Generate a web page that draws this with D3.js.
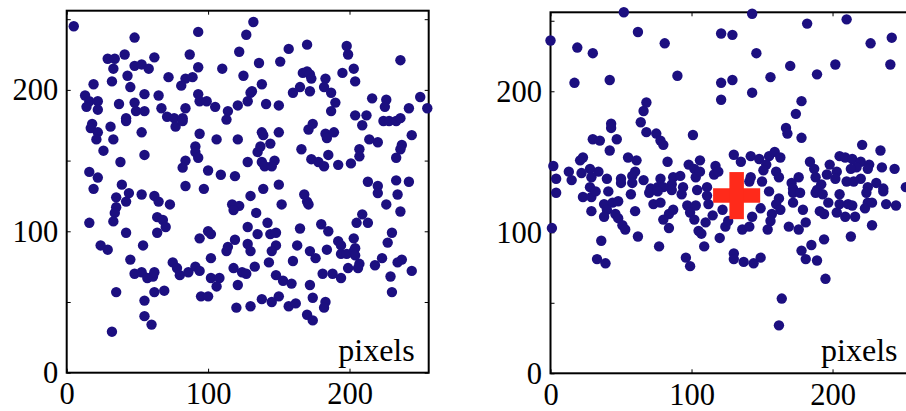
<!DOCTYPE html>
<html><head><meta charset="utf-8">
<script src="https://cdn.jsdelivr.net/npm/d3@7"></script>
<style>body{margin:0;background:#fff;overflow:hidden}</style>
</head><body><svg id="c" width="906" height="411"></svg>
<script>
const leftPoints = [
[5,245],[48,237],[93,241],[41,225],[29,222],[34,222],[62,223],[87,225],[122,227],[48,217],[53,218],[58,215],[33,215],[93,216],[110,215],[43,210],[32,206],[72,209],[84,208],[89,209],[81,203],[125,210],[19,204],[45,202],[13,196],[55,197],[65,196],[93,197],[16,192],[22,192],[14,188],[22,186],[37,190],[48,191],[49,185],[55,185],[94,192],[99,192],[105,188],[67,187],[84,187],[114,185],[113,179],[121,189],[71,181],[76,180],[82,180],[77,174],[82,178],[42,180],[42,178],[18,176],[17,173],[31,174],[22,170],[53,170],[94,169],[21,165],[33,165],[106,165],[121,165],[91,160],[91,156],[93,152],[26,157],[55,154],[38,149],[84,150],[82,145],[16,142],[22,138],[100,143],[109,140],[119,139],[39,133],[19,130],[84,132],[97,130],
[44,127],[53,126],[62,125],[65,121],[35,124],[73,119],[42,121],[35,117],[34,113],[33,107],[16,106],[64,110],[68,108],[70,103],[117,119],[122,118],[118,115],[42,99],[64,99],[100,100],[102,98],[94,95],[119,94],[24,90],[29,87],[54,90],[114,89],[113,86],[45,80],[102,81],[75,78],[48,70],[53,71],[57,67],[61,68],[62,71],[78,74],[80,69],[86,71],[91,75],[94,72],[102,67],[108,67],[106,61],[118,74],[124,71],[127,70],[121,62],[35,57],[62,57],[69,58],[55,51],[95,54],[100,54],[120,46],[55,40],[60,34],[32,29],
[132,248],[127,239],[157,229],[170,232],[198,231],[199,225],[136,219],[151,220],[236,221],[167,212],[170,213],[172,211],[173,208],[183,208],[182,202],[187,198],[195,212],[203,215],[204,206],[138,204],[165,202],[160,198],[172,199],[130,198],[131,199],[128,192],[141,190],[150,189],[190,191],[187,185],[204,182],[212,182],[209,175],[216,194],[226,193],[225,188],[250,195],[242,187],[255,187],[224,178],[228,178],[233,178],[236,180],[138,170],[139,168],[144,162],[150,170],[171,172],[174,176],[183,169],[184,166],[189,170],[214,165],[220,163],[244,168],[237,161],[236,158],[135,156],[137,160],[166,158],[207,158],[207,153],[233,152],[128,149],[138,149],[140,146],[147,150],[145,146],[173,151],[178,149],[182,146],[185,154],[192,147],[201,148],[213,135],[220,132],[233,136],[242,135],[150,133],[139,130],
[130,125],[168,126],[170,121],[171,119],[152,119],[220,127],[234,126],[226,119],[236,114],[134,113],[209,112],[205,106],[213,106],[128,103],[142,106],[165,102],[180,105],[185,100],[135,98],[144,98],[148,99],[230,99],[203,95],[128,91],[130,86],[148,90],[145,86],[163,90],[192,93],[194,90],[194,84],[172,86],[176,81],[184,87],[198,84],[203,86],[204,88],[204,83],[207,77],[206,74],[199,74],[227,92],[223,81],[218,76],[237,80],[234,78],[160,79],[143,78],[133,75],[148,69],[153,65],[159,63],[181,70],[188,70],[194,67],[244,72],[229,68],[172,62],[230,57],[150,54],[138,52],[145,50],[157,47],[162,49],[174,53],[183,50],[182,46],[130,47],[170,41],[174,37]
];
const rightPoints = [
[52,256],[62,242],[81,234],[0,236],[19,231],[30,227],[121,241],[90,211],[17,206],[42,208],[121,206],[121,194],[68,192],[66,186],[64,178],[43,177],[43,174],[68,171],[75,170],[78,165],[80,162],[101,169],[30,166],[35,165],[47,166],[42,158],[55,153],[61,151],[60,143],[58,140],[83,150],[106,151],[21,151],[23,153],[2,147],[13,143],[98,148],[102,145],[103,139],[106,143],[117,147],[116,141],[119,143],[28,145],[34,143],[29,139],[22,142],[4,138],[15,137],[40,138],[50,138],[50,135],[66,137],[58,135],[78,138],[87,139],[92,140],[86,134],[94,132],[28,132],[71,131],[76,132],[80,132],[111,132],
[4,128],[23,125],[29,125],[32,129],[41,129],[57,127],[70,128],[76,129],[86,130],[93,127],[104,130],[111,126],[112,120],[38,120],[44,121],[48,122],[40,116],[29,115],[60,115],[73,120],[78,121],[84,113],[87,116],[80,109],[97,119],[103,119],[99,114],[102,109],[110,107],[115,112],[122,116],[38,111],[46,113],[48,110],[51,105],[53,102],[1,103],[84,103],[105,101],[107,99],[120,96],[124,104],[36,94],[62,97],[77,90],[109,90],[33,81],[39,78],[96,82],[99,76],
[143,255],[182,248],[210,251],[129,240],[227,234],[242,238],[146,227],[170,218],[202,219],[241,219],[189,212],[156,210],[129,208],[143,199],[178,193],[174,184],[167,174],[168,170],[178,167],[221,162],[234,158],[130,155],[142,154],[148,152],[135,150],[155,154],[159,157],[163,153],[153,148],[151,144],[184,150],[187,145],[198,148],[205,154],[209,153],[214,152],[220,150],[217,146],[213,145],[226,148],[225,145],[235,146],[244,145],[160,143],[162,139],[150,136],[142,139],[141,136],[176,139],[188,139],[196,141],[203,143],[202,138],[210,136],[220,138],[215,136],[231,135],[236,131],[171,135],[172,131],[192,134],[189,130],[225,132],[252,132],
[155,129],[162,124],[160,120],[163,116],[157,113],[156,108],[154,102],[172,128],[177,128],[172,121],[188,128],[193,127],[197,121],[194,113],[191,115],[205,127],[205,120],[211,120],[214,119],[203,114],[209,111],[216,111],[224,128],[225,121],[223,117],[228,121],[236,129],[238,120],[245,119],[179,116],[181,107],[169,104],[176,102],[149,117],[143,111],[126,108],[136,102],[141,104],[228,105],[213,97],[194,95],[185,91],[178,87],[181,81],[189,80],[130,85],[130,81],[137,79],[144,78],[149,82],[195,67],[164,53],[162,34]
];
const crossCenter = [132, 126];
const crossHalf = 16.7;
const xTickValues = [0, 100, 200];
const yTickValues = [0, 50, 100, 150, 200, 250];
const yLabelValues = [0, 100, 200];
const axisUnitLabel = "pixels";
const domainMax = 256;

const FONT = "'Liberation Serif','Times New Roman',serif";
const DOT = "#1c0f80";
const svg = d3.select("#c");

const panels = [
  {pts: leftPoints, x0: 66.7, x1: 428.7, y0: 372.7, y1: 10.7, cross: false},
  {pts: rightPoints, x0: 550.5, x1: 911.5, y0: 373.3, y1: 12.3, cross: true}
];

panels.forEach(p => {
  const x = d3.scaleLinear().domain([0, domainMax]).range([p.x0, p.x1]);
  const y = d3.scaleLinear().domain([0, domainMax]).range([p.y0, p.y1]);
  const g = svg.append("g");

  const fmt = d => yLabelValues.includes(d) ? String(d) : "";
  const styleAxis = sel => {
    sel.select(".domain").remove();
    sel.selectAll(".tick line").attr("stroke", "#000").attr("stroke-width", 1);
    sel.attr("font-family", FONT).attr("font-size", 30.5);
    sel.selectAll(".tick text").attr("fill", "#000");
  };

  g.append("g").attr("transform", `translate(0,${p.y0})`)
    .call(d3.axisBottom(x).tickValues(xTickValues).tickSizeInner(-4).tickSizeOuter(0).tickPadding(10))
    .call(styleAxis);
  g.append("g").attr("transform", `translate(0,${p.y1})`)
    .call(d3.axisTop(x).tickValues(xTickValues).tickSizeInner(-4).tickSizeOuter(0).tickFormat(""))
    .call(styleAxis);
  g.append("g").attr("transform", `translate(${p.x0},0)`)
    .call(d3.axisLeft(y).tickValues(yTickValues).tickSizeInner(-4).tickSizeOuter(0).tickPadding(8.5).tickFormat(fmt))
    .call(styleAxis);
  g.append("g").attr("transform", `translate(${p.x1},0)`)
    .call(d3.axisRight(y).tickValues(yTickValues).tickSizeInner(-4).tickSizeOuter(0).tickFormat(""))
    .call(styleAxis);

  g.append("rect")
    .attr("x", p.x0).attr("y", p.y1)
    .attr("width", p.x1 - p.x0).attr("height", p.y0 - p.y1)
    .attr("fill", "none").attr("stroke", "#000").attr("stroke-width", 2);

  g.append("g").selectAll("circle").data(p.pts).join("circle")
    .attr("cx", d => x(d[0])).attr("cy", d => y(d[1]))
    .attr("r", 5.2).attr("fill", DOT);

  g.append("text")
    .attr("x", p.x1 - 14).attr("y", 360.7)
    .attr("text-anchor", "end")
    .attr("font-family", FONT).attr("font-size", 32)
    .text(axisUnitLabel);

  if (p.cross) {
    const cg = g.append("g").attr("stroke", "#ff2a1a").attr("stroke-width", 14.5);
    cg.append("line")
      .attr("x1", x(crossCenter[0] - crossHalf)).attr("x2", x(crossCenter[0] + crossHalf))
      .attr("y1", y(crossCenter[1])).attr("y2", y(crossCenter[1]));
    cg.append("line")
      .attr("x1", x(crossCenter[0])).attr("x2", x(crossCenter[0]))
      .attr("y1", y(crossCenter[1] - crossHalf)).attr("y2", y(crossCenter[1] + crossHalf));
  }
});
</script>
</body></html>
